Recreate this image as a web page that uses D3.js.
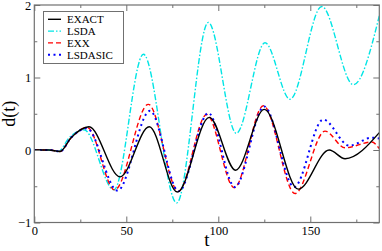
<!DOCTYPE html>
<html><head><meta charset="utf-8">
<script src="https://cdn.jsdelivr.net/npm/d3@7"></script>
<style>body{margin:0;background:#fff}svg{display:block}</style>
</head><body><svg id="c" width="382" height="251"></svg>
<script>
const exactT = [0, 8, 14, 20, 29.7, 46.6, 62.5, 77.7, 95.1, 109.4, 125, 143.5, 160.3, 168.9, 187.5];
const exactD = [0, 0, -0.02, 0.17, 0.32, -0.37, 0.32, -0.58, 0.45, -0.28, 0.56, -0.54, 0.0, -0.12, 0.24];
const lsdaT = [0, 8, 13, 19, 27, 43.3, 59.3, 77.4, 94.6, 109.8, 125.4, 139, 156.2, 173.4, 187.5];
const lsdaD = [0, 0, -0.02, 0.17, 0.28, -0.55, 1.32, -0.73, 1.76, 0.23, 1.48, 0.70, 1.98, 0.90, 1.85];
const exxT = [0, 8, 14, 20, 28.8, 43.7, 62, 78.3, 93.7, 108.7, 124.5, 141.7, 158, 168.9, 183.4, 187.5];
const exxD = [0, 0, -0.02, 0.17, 0.31, -0.55, 0.63, -0.57, 0.49, -0.52, 0.61, -0.60, 0.26, 0.03, 0.11, 0.02];
const sicT = [0, 8, 14, 20, 28.5, 45.2, 62.9, 78.5, 94.6, 109, 125, 141.2, 157, 171.2, 183.4, 187.5];
const sicD = [0, 0, -0.02, 0.17, 0.30, -0.56, 0.54, -0.57, 0.51, -0.51, 0.60, -0.51, 0.42, 0.06, 0.17, 0.16];
const seriesNames = ["EXACT", "LSDA", "EXX", "LSDASIC"];
const xMajor = [0, 50, 100, 150];
const xMinor = [25, 75, 125, 175];
const yMajor = [-1, 0, 1, 2];
const yMinor = [-0.5, 0.5, 1.5];

function pickSerif() {
  const cands = ["Liberation Serif", "Times New Roman", "Tinos", "DejaVu Serif", "Noto Serif", "FreeSerif", "Nimbus Roman", "Times"];
  const ctx = document.createElement("canvas").getContext("2d");
  const s = "EXACT LSDASIC d(t) 0123456789 mwiIl";
  function w(f) { ctx.font = "20px " + f; return ctx.measureText(s).width; }
  const bm = w("monospace"), bs = w("sans-serif");
  for (const c of cands) {
    const a = w(`"${c}", monospace`), b = w(`"${c}", sans-serif`);
    if (Math.abs(a - bm) > 0.5 && Math.abs(b - bs) > 0.5) return `"${c}", serif`;
  }
  return "serif";
}
const FONT = pickSerif();

const styles = {
  EXACT: {color: "#000000", dash: null, w: 1.4},
  LSDA: {color: "#00e5e5", dash: "6,2,1.5,2", w: 1.4},
  EXX: {color: "#ff0000", dash: "5,3", w: 1.4},
  LSDASIC: {color: "#0000ff", dash: "2,3.5", w: 2}
};
const series = [
  {name: "EXACT", t: exactT, d: exactD},
  {name: "LSDA", t: lsdaT, d: lsdaD},
  {name: "EXX", t: exxT, d: exxD},
  {name: "LSDASIC", t: sicT, d: sicD}
];

const L = 34.3, R = 379.3, T = 5, B = 222.5;
const svg = d3.select("#c").style("font-family", FONT);
const x = d3.scaleLinear().domain([0, 187.5]).range([L, R]);
const y = d3.scaleLinear().domain([-1, 2]).range([B, T]);

svg.append("defs").append("clipPath").attr("id", "clip")
  .append("rect").attr("x", L).attr("y", T).attr("width", R - L).attr("height", B - T);

const line = d3.line().x(p => x(p[0])).y(p => y(p[1])).curve(d3.curveMonotoneX);
const g = svg.append("g").attr("clip-path", "url(#clip)");
["LSDA", "EXX", "LSDASIC", "EXACT"].forEach(n => {
  const s = series.find(q => q.name === n);
  const st = styles[n];
  g.append("path").datum(s.t.map((t, i) => [t, s.d[i]]))
    .attr("d", line).attr("fill", "none")
    .attr("stroke", st.color).attr("stroke-width", st.w)
    .attr("stroke-dasharray", st.dash);
});

const frameCol = "#707070";
const ax = svg.append("g");
ax.append("g").attr("transform", `translate(0,${B})`)
  .call(d3.axisBottom(x).tickValues(xMajor).tickSize(-6).tickFormat(d3.format("d")).tickPadding(4));
ax.append("g").attr("transform", `translate(0,${B})`)
  .call(d3.axisBottom(x).tickValues(xMinor).tickSize(-3).tickFormat(""));
ax.append("g").attr("transform", `translate(0,${T})`)
  .call(d3.axisTop(x).tickValues(xMajor).tickSize(-6).tickFormat(""));
ax.append("g").attr("transform", `translate(0,${T})`)
  .call(d3.axisTop(x).tickValues(xMinor).tickSize(-3).tickFormat(""));
ax.append("g").attr("transform", `translate(${L},0)`)
  .call(d3.axisLeft(y).tickValues(yMajor).tickSize(-6).tickFormat(d3.format("d")).tickPadding(3));
ax.append("g").attr("transform", `translate(${L},0)`)
  .call(d3.axisLeft(y).tickValues(yMinor).tickSize(-3).tickFormat(""));
ax.append("g").attr("transform", `translate(${R},0)`)
  .call(d3.axisRight(y).tickValues(yMajor).tickSize(-6).tickFormat(""));
ax.append("g").attr("transform", `translate(${R},0)`)
  .call(d3.axisRight(y).tickValues(yMinor).tickSize(-3).tickFormat(""));
ax.selectAll("g").attr("font-family", null);
ax.selectAll(".domain").remove();
ax.selectAll(".tick line").attr("stroke", frameCol).attr("stroke-width", 1);
ax.selectAll(".tick text").attr("font-size", 12.5).attr("fill", "#000")
  .style("font-family", FONT);
svg.append("rect").attr("x", L).attr("y", T).attr("width", R - L).attr("height", B - T)
  .attr("fill", "none").attr("stroke", frameCol).attr("stroke-width", 1.2);

svg.append("text").attr("x", 207).attr("y", 246).attr("text-anchor", "middle")
  .style("font-family", FONT).attr("font-size", 19).text("t");
svg.append("text").attr("transform", `translate(15,${(T + B) / 2}) rotate(-90)`)
  .attr("text-anchor", "middle").style("font-family", FONT).attr("font-size", 18).text("d(t)");

const lg = svg.append("g");
lg.append("rect").attr("x", 43.5).attr("y", 11.5).attr("width", 80).attr("height", 52)
  .attr("fill", "#fff").attr("stroke", frameCol).attr("stroke-width", 1);
seriesNames.forEach((n, i) => {
  const yy = 19.3 + i * 11.8;
  const st = styles[n];
  lg.append("line").attr("x1", 48).attr("x2", 61).attr("y1", yy).attr("y2", yy)
    .attr("stroke", st.color).attr("stroke-width", st.w)
    .attr("stroke-dasharray", st.dash);
  lg.append("text").attr("x", 67).attr("y", yy + 4).style("font-family", FONT)
    .attr("font-size", 11).text(n);
});
</script></body></html>
